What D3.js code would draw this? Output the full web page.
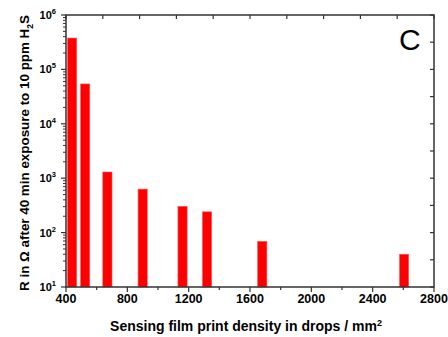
<!DOCTYPE html>
<html lang="en">
<head>
  <meta charset="UTF-8">
  <title>Resistance vs print density</title>
  <style>
    body { margin: 0; background: #fff; }
    text { font-family: "Liberation Sans", Arial, sans-serif; }
  </style>
</head>
<body>
  <script src="https://cdn.jsdelivr.net/npm/d3@7/dist/d3.min.js"></script>
  <script>
    // density in drops / mm2 and resistance in ohm
    const density = [440, 525, 670, 900, 1160, 1320, 1680, 2605]
    const resistance = [377000, 54000, 1300, 630, 304, 241, 69, 40]
    const xTicks = [400, 800, 1200, 1600, 2000, 2400, 2800]
    const yExps = [1, 2, 3, 4, 5, 6]

    const width = 448, height = 337
    const m = {left: 66, right: 434, top: 15, bottom: 287}
    const barW = 60 // in data units

    const svg = d3.select("body").append("svg")
      .attr("width", width).attr("height", height)

    const x = d3.scaleLinear().domain([400, 2800]).range([m.left, m.right])
    const y = d3.scaleLog().domain([10, 1e6]).range([m.bottom, m.top])

    // bars
    svg.append("g").selectAll("rect")
      .data(density.map((d, i) => ({d: d, r: resistance[i]})))
      .enter().append("rect")
      .attr("x", d => x(d.d - barW / 2))
      .attr("width", d => x(d.d + barW / 2) - x(d.d - barW / 2))
      .attr("y", d => y(d.r))
      .attr("height", d => y(10) - y(d.r))
      .attr("fill", "#ff0000")
      .attr("stroke", "#ff5555")
      .attr("stroke-width", 0.6)

    const axisCol = "#333"

    // bottom axis, ticks outward
    const xMinor = d3.range(400, 2801, 200)
    svg.append("g").selectAll("line").data(xMinor).enter().append("line")
      .attr("x1", d => x(d)).attr("x2", d => x(d))
      .attr("y1", m.bottom).attr("y2", d => m.bottom + (d % 400 === 0 ? 5 : 3))
      .attr("stroke", axisCol).attr("stroke-width", 1.2)
    svg.append("g").selectAll("text").data(xTicks).enter().append("text")
      .attr("x", d => x(d)).attr("y", 302.5)
      .attr("text-anchor", "middle")
      .attr("font-size", 12.5).attr("font-weight", "bold")
      .text(d => d)

    // top axis, ticks inward
    const topTicks = d3.range(0, 11).map(i => 400 + i * 240)
    svg.append("g").selectAll("line").data(topTicks).enter().append("line")
      .attr("x1", d => x(d)).attr("x2", d => x(d))
      .attr("y1", m.top).attr("y2", m.top + 4)
      .attr("stroke", axisCol).attr("stroke-width", 1.2)

    // left axis, ticks outward with minor ticks
    const yMinor = []
    yExps.forEach(e => {
      if (e < 6) for (let k = 2; k <= 9; k++) yMinor.push(k * Math.pow(10, e))
    })
    svg.append("g").selectAll("line").data(yMinor).enter().append("line")
      .attr("x1", m.left).attr("x2", m.left - 3)
      .attr("y1", d => y(d)).attr("y2", d => y(d))
      .attr("stroke", axisCol).attr("stroke-width", 1)
    svg.append("g").selectAll("line").data(yExps).enter().append("line")
      .attr("x1", m.left).attr("x2", m.left - 5)
      .attr("y1", d => y(Math.pow(10, d))).attr("y2", d => y(Math.pow(10, d)))
      .attr("stroke", axisCol).attr("stroke-width", 1.2)
    const yl = svg.append("g").selectAll("text").data(yExps).enter().append("text")
      .attr("x", 56).attr("y", d => y(Math.pow(10, d)) + 4)
      .attr("text-anchor", "end")
      .attr("font-size", 11).attr("font-weight", "bold")
    yl.append("tspan").text("10")
    yl.append("tspan").attr("dy", -5).attr("font-size", 7.5).text(d => d)

    // right axis, half-decade ticks inward
    const rightTicks = d3.range(1, 6.01, 0.5)
    svg.append("g").selectAll("line").data(rightTicks).enter().append("line")
      .attr("x1", m.right).attr("x2", m.right - 4)
      .attr("y1", d => y(Math.pow(10, d))).attr("y2", d => y(Math.pow(10, d)))
      .attr("stroke", axisCol).attr("stroke-width", 1.2)

    // frame
    svg.append("rect")
      .attr("x", m.left).attr("y", m.top)
      .attr("width", m.right - m.left).attr("height", m.bottom - m.top)
      .attr("fill", "none").attr("stroke", axisCol).attr("stroke-width", 1.5)

    // axis titles
    const xt = svg.append("text")
      .attr("x", 246).attr("y", 331)
      .attr("text-anchor", "middle")
      .attr("font-size", 14).attr("font-weight", "bold")
    xt.append("tspan").text("Sensing film print density in drops / mm")
    xt.append("tspan").attr("dy", -5.5).attr("font-size", 9).text("2")

    const yt = svg.append("text")
      .attr("transform", "translate(29,153) rotate(-90)")
      .attr("text-anchor", "middle")
      .attr("font-size", 13.4).attr("font-weight", "bold")
    yt.append("tspan").text("R in \u03A9 after 40 min exposure to 10 ppm H")
    yt.append("tspan").attr("dy", 4).attr("font-size", 8.5).text("2")
    yt.append("tspan").attr("dy", -4).text("S")

    svg.append("text")
      .attr("x", 399).attr("y", 50)
      .attr("font-size", 30)
      .text("C")
  </script>
</body>
</html>
